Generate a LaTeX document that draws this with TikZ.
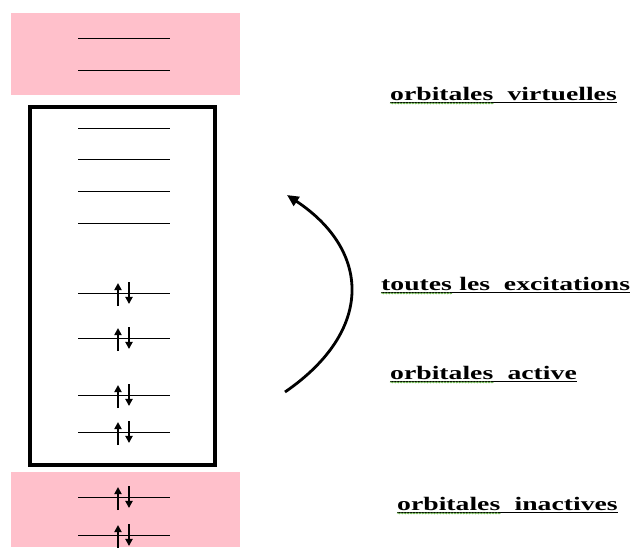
\documentclass[tikz,border=0pt]{standalone}
\usepackage{fontspec}
\newfontfamily\lblfont{Liberation Serif}[FakeStretch=1.45]
\usetikzlibrary{arrows.meta,decorations.pathmorphing}
\definecolor{rose}{RGB}{255,192,203}
\definecolor{squig}{RGB}{100,175,70}

\tikzset{
  level/.style={line width=0.8pt},
  spin/.style={line width=2pt,-{Triangle[length=6pt,width=6pt]}},
  lbl/.style={inner sep=0pt,anchor=base west,font=\lblfont\bfseries\fontsize{16.3}{19}\selectfont},
}

\begin{document}
\begin{tikzpicture}[x=0.03cm,y=-0.03cm]
    \useasboundingbox (0,0) rectangle (632,547);
    % virtual and inactive blocks
    \fill[rose] (11,13) rectangle (240,95);
    \fill[rose] (11,472) rectangle (240,547);
    % active space
    \draw[line width=2.8pt] (30,107) rectangle (215,465);
    \foreach \y in {38,70,128,159,191,223,293,338,395,432,497,535}
        \draw[level] (78,\y) -- (170,\y);
    % doubly occupied levels
    \foreach \y in {293,338,395,432,497,535}{
        \draw[spin] (118,\y+13) -- (118,\y-10);
        \draw[spin] (129,\y-11) -- (129,\y+11);
    }
    % excitations
    \coordinate (exc-start) at (285,392);
    \coordinate (exc-end) at (287,195);
    \draw[line width=2.4pt,-{Triangle[length=10pt,width=9pt]}] (exc-start) .. controls (375,330) and (370,250) .. (exc-end);
    % labels
    \foreach \px/\py/\first/\rest [count=\i] in {390/100/orbitales/{\ \ virtuelles},
            381/290/toutes/{\ les\ \ excitations}, 390/379/orbitales/{\ \ active},
            397/510/orbitales/{\ \ inactives}}{
        \node[lbl] (word\i) at (\px,\py) {\first};
        \node[lbl] (rest\i) at (word\i.base east) {\rest};
        \draw[line width=0.8pt] ([yshift=-2pt]word\i.base west) -- ([yshift=-2pt]rest\i.base east);
        \draw[squig,line width=0.6pt,decorate,decoration={snake,amplitude=0.5pt,segment length=2.5pt}]
            ([yshift=-2.8pt]word\i.base west) -- ([yshift=-2.8pt]word\i.base east);
    }
\end{tikzpicture}
\end{document}
